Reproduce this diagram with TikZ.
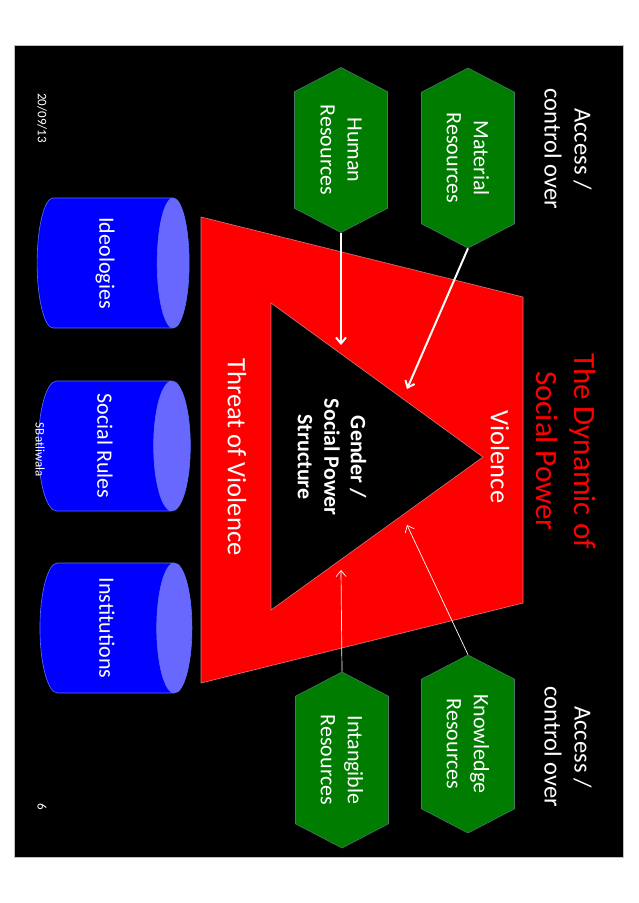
\documentclass[tikz,border=0pt]{standalone}
\usepackage{fontspec}
\setmainfont{Carlito}
\usepackage{tikz}
\usetikzlibrary{shapes.geometric,shapes.symbols,arrows.meta,positioning}

\definecolor{hexgreen}{RGB}{0,124,0}
\definecolor{hexline}{RGB}{70,120,100}
\definecolor{cylbody}{RGB}{0,0,255}
\definecolor{cylcap}{RGB}{104,104,255}
\definecolor{cylline}{RGB}{90,110,255}
\definecolor{powred}{RGB}{255,0,0}
\definecolor{powline}{RGB}{215,120,125}

\begin{document}
\begin{tikzpicture}[
  x=1pt, y=-1pt,
  res/.style={shape=signal, signal to=west and east, signal pointer angle=125,
              draw=hexline, line width=0.6pt, fill=hexgreen, text=white,
              rotate=-90, minimum height=93pt, inner sep=0pt, align=center,
              font=\fontsize{22}{27}\selectfont},
  store/.style={cylinder, aspect=0.35, draw=cylline, line width=0.6pt,
              cylinder uses custom fill, cylinder body fill=cylbody,
              cylinder end fill=cylcap, minimum width=130pt, minimum height=152pt,
              inner sep=0pt, text=white, font=\fontsize{22}{26}\selectfont},
  word/.style={rotate=-90, align=center, text=white, inner sep=0pt},
  access/.style={word, font=\fontsize{24.5}{30}\selectfont},
  note/.style={word, font=\fontsize{13}{15}\selectfont},
  arr/.style={-{Straight Barb[length=6pt,width=10pt]}, white, line width=2pt},
  thinarr/.style={arr, line width=0.7pt}
]
  \path[use as bounding box, fill=white] (0,0) rectangle (638,903);
  \draw[fill=black, draw=gray!50, line width=0.5pt] (14,45) rectangle (623,857);

  \draw[fill=powred, draw=powline, line width=0.6pt]
    (201,217) -- (523,297) -- (523,603) -- (201,683) -- cycle;
  \draw[fill=black, draw=powline, line width=0.6pt]
    (271,303) -- (483,457) -- (271,610) -- cycle;

  \node[word, font=\fontsize{31}{38}\selectfont, text=powred] (title) at (566,451)
        {The Dynamic of\\Social Power};
  \node[access] (acc1) at (568,149) {Access /\\control over};
  \node[access] (acc2) at (568,747) {Access /\\control over};
  \node[word, font=\fontsize{26.5}{32}\selectfont] (viol) at (500,457) {Violence};
  \node[word, font=\fontsize{26.5}{32}\selectfont] (threat) at (237,457) {Threat of Violence};
  \node[word, font=\fontsize{22}{26.5}\selectfont\bfseries] (core) at (332,457)
        {Gender /\\Social Power\\Structure};

  \node[res, minimum width=180pt] (mat) at (468,158) {Material\\Resources};
  \node[res, minimum width=165pt] (hum) at (341,150) {Human\\Resources};
  \node[res, minimum width=178pt] (kno) at (468,744) {Knowledge\\Resources};
  \node[res, minimum width=176pt] (int) at (342,760) {Intangible\\Resources};

  \node[store] (ideo) at (105,263) {\rotatebox{-90}{Ideologies}};
  \node[store] (rules) at (105,446) {\rotatebox{-90}{Social Rules}};
  \node[store] (inst) at (107,628) {\rotatebox{-90}{Institutions}};

  \node[note] (date) at (42,118) {20/09/13};
  \node[note] (page) at (42,807) {6};
  \node[note] (auth) at (40,450) {SBatliwala};

  \coordinate (hum-in) at (341,345);
  \coordinate (mat-in) at (407,389);
  \coordinate (kno-in) at (407,525);
  \coordinate (int-in) at (341,570);
  \draw[arr] (hum.east) -- (hum-in);
  \draw[arr] (mat.east) -- (mat-in);
  \draw[thinarr] (kno.west) -- (kno-in);
  \draw[thinarr] (int.west) -- (int-in);
\end{tikzpicture}
\end{document}
